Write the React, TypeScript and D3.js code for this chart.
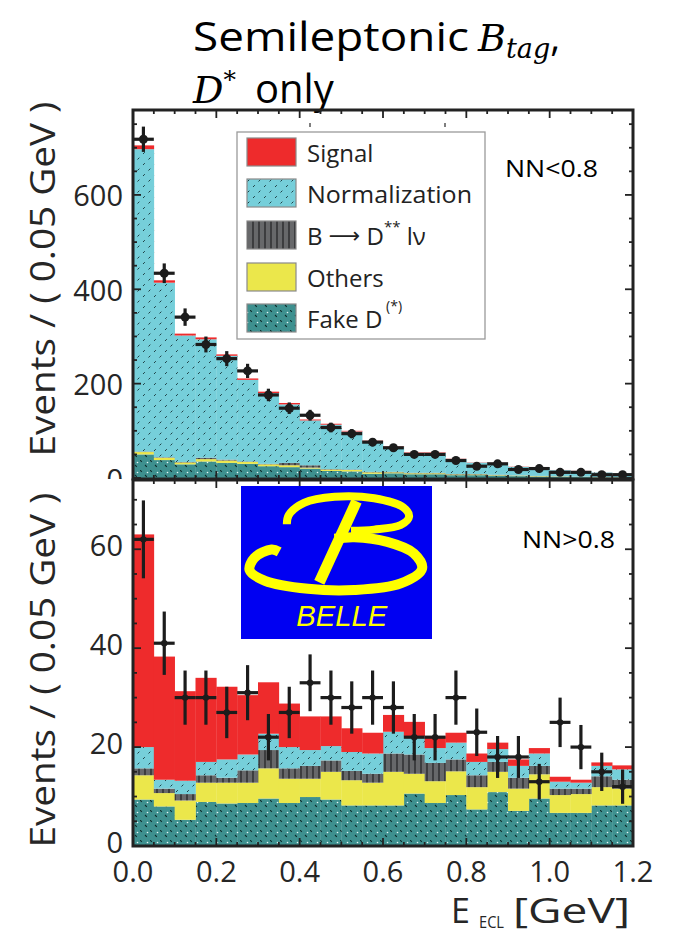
import React from 'react';
import * as d3 from 'd3';

// ---------- DATA ----------
const binLow = [0.0, 0.05, 0.1, 0.15, 0.2, 0.25, 0.3, 0.35, 0.4, 0.45, 0.5, 0.55, 0.6, 0.65, 0.7, 0.75, 0.8, 0.85, 0.9, 0.95, 1.0, 1.05, 1.1, 1.15];
const binWidth = 0.05;

// NN < 0.8 (top panel)
const dataLo = [718, 434, 341, 283, 253, 227, 176, 148, 133, 107, 94, 76, 64, 50, 50, 37, 25, 30, 18, 20, 12, 12, 7, 7];
const fakeLo = [50, 38, 29, 35, 32, 30, 25, 23, 20, 15, 14, 9, 10, 8, 8, 6, 6, 5, 4, 3, 2, 2, 1, 1];
const othersLo = [5, 5, 4, 5, 5, 4, 4, 4, 2, 3, 3, 3, 2, 2, 2, 1.5, 1.5, 1, 1, 1, 1, 0.5, 0.5, 0.5];
const dssLo = [1, 1, 1, 3, 2, 1, 1, 5, 5, 1, 1, 1, 1, 1, 1, 1, 1, 1, 0.5, 0.5, 0.5, 0.5, 0.5, 0.5];
const normLo = [641, 370, 268, 251, 220, 173, 150, 124, 95, 94, 80.5, 64.5, 53, 42, 42, 32, 24, 25.5, 18, 18, 13.2, 11.7, 9.8, 7.8];
const signalLo = [8, 5, 4, 4, 3, 3, 3, 3, 2, 2, 1.5, 1.5, 1, 1, 1, 0.5, 0.5, 0.5, 0.5, 0.5, 0.3, 0.3, 0.2, 0.2];

// NN > 0.8 (bottom panel)
const dataHi = [62, 41, 30, 30, 27, 31, 22, 27, 33, 30, 28, 30, 28, 22, 22, 30, 23, 18, 18, 13, 25, 20, 15, 12];
const fakeHi = [9.4, 8.0, 5.3, 8.9, 8.6, 8.7, 9.6, 8.7, 9.9, 9.4, 8.2, 8.2, 8.2, 10.6, 8.7, 10.3, 7.4, 10.9, 7.1, 9.6, 6.7, 6.7, 8.2, 8.2];
const othersHi = [4.9, 2.7, 3.9, 3.9, 4.2, 4.1, 6.1, 4.9, 3.7, 5.6, 5.1, 4.6, 6.8, 4.0, 4.4, 4.8, 4.5, 4.1, 4.5, 4.9, 3.6, 3.8, 3.7, 3.4];
const dssHi = [1.4, 0.9, 1.3, 1.5, 1.0, 2.5, 3.7, 2.1, 2.6, 2.3, 1.9, 1.8, 3.7, 3.9, 3.7, 2.4, 2.4, 2.0, 2.2, 1.7, 1.3, 1.1, 2.2, 1.8];
const normHi = [4.3, 1.8, 2.7, 2.7, 3.7, 3.2, 3.3, 4.3, 3.2, 2.9, 3.8, 4.1, 4.4, 3.7, 3.0, 3.4, 2.7, 2.6, 2.4, 2.5, 1.4, 1.2, 2.1, 2.1];
const signalHi = [43.0, 24.9, 18.1, 17.0, 14.7, 12.0, 10.4, 8.8, 6.8, 6.0, 4.8, 4.2, 3.4, 2.9, 2.4, 2.0, 1.7, 1.3, 1.3, 1.1, 1.0, 0.6, 0.7, 0.8];

const xTicks = [0, 0.2, 0.4, 0.6, 0.8, 1.0, 1.2];
const xTickLabels = ['0.0', '0.2', '0.4', '0.6', '0.8', '1.0', '1.2'];
const yTopTicks = [0, 200, 400, 600];
const yBotTicks = [0, 20, 40, 60];

const layerKeys = ['fake', 'others', 'dss', 'norm', 'signal'];
const legendKeys = ['signal', 'norm', 'dss', 'others', 'fake'];

// ---------- STYLE ----------
const FILL: Record<string, string> = {
  signal: '#ee2b2c',
  norm: 'url(#normPat)',
  dss: 'url(#dssPat)',
  others: '#ebe74b',
  fake: 'url(#fakePat)',
};

const W = 679;
const H = 935;
const X0 = 133;
const X1 = 633;
const TOP_Y0 = 110;
const TOP_Y1 = 478;
const BOT_Y0 = 480;
const BOT_Y1 = 846;

const x = d3.scaleLinear().domain([0, 1.2]).range([X0, X1]);
const yTop = d3.scaleLinear().domain([0, 780]).range([TOP_Y1, TOP_Y0]);
const yBot = d3.scaleLinear().domain([0, 74]).range([BOT_Y1, BOT_Y0]);

const sans = "'Open Sans', 'Noto Sans', sans-serif";
const serif = "'DejaVu Serif', 'Liberation Serif', serif";

function makeRows(f: number[], o: number[], d: number[], n: number[], s: number[]) {
  return binLow.map((lo, i) => ({ lo, fake: f[i], others: o[i], dss: d[i], norm: n[i], signal: s[i] }));
}

const stacker = d3.stack<any>().keys(layerKeys);

function Panel({ rows, data, y, y0, y1, minorStep, majorStep, clipId, dotR }: any) {
  const series = stacker(rows);
  const xMinor = d3.range(0, 1.2001, 0.05);
  const yMax = y.domain()[1];
  const yMinor = d3.range(0, yMax, minorStep);
  return (
    <g>
      <defs>
        <clipPath id={clipId}>
          <rect x={X0} y={y0} width={X1 - X0} height={y1 - y0} />
        </clipPath>
      </defs>
      <g clipPath={`url(#${clipId})`}>
        {series.map((s: any) => (
          <g key={s.key}>
            {s.map((d: any, i: number) => {
              const top = y(d[1]);
              const bot = y(d[0]);
              return (
                <rect
                  key={i}
                  x={x(rows[i].lo)}
                  y={top}
                  width={x(rows[i].lo + binWidth) - x(rows[i].lo) + 0.3}
                  height={Math.max(0, bot - top)}
                  fill={FILL[s.key]}
                />
              );
            })}
          </g>
        ))}
        {data.map((v: number, i: number) => {
          const cx = x(binLow[i] + binWidth / 2);
          const err = Math.sqrt(v);
          return (
            <g key={i} stroke="#1c1c1c" strokeWidth={3.2}>
              <line x1={x(binLow[i])} x2={x(binLow[i] + binWidth)} y1={y(v)} y2={y(v)} />
              <line x1={cx} x2={cx} y1={y(v - err)} y2={y(v + err)} />
              <circle cx={cx} cy={y(v)} r={dotR} fill="#1c1c1c" stroke="none" />
            </g>
          );
        })}
      </g>
      <g stroke="#222" strokeWidth={1.8}>
        {xMinor.map((t, i) => {
          const major = Math.abs(t / 0.2 - Math.round(t / 0.2)) < 1e-6;
          const len = major ? 8 : 4;
          return (
            <g key={i}>
              <line x1={x(t)} x2={x(t)} y1={y1} y2={y1 - len} />
              <line x1={x(t)} x2={x(t)} y1={y0} y2={y0 + len} />
            </g>
          );
        })}
        {yMinor.map((t, i) => {
          const major = Math.abs(t / majorStep - Math.round(t / majorStep)) < 1e-6;
          const len = major ? 8 : 4;
          return (
            <g key={i}>
              <line x1={X0} x2={X0 + len} y1={y(t)} y2={y(t)} />
              <line x1={X1} x2={X1 - len} y1={y(t)} y2={y(t)} />
            </g>
          );
        })}
      </g>
      <rect x={X0} y={y0} width={X1 - X0} height={y1 - y0} fill="none" stroke="#222" strokeWidth={3} />
    </g>
  );
}

function BelleLogo() {
  const lx = 241, ly = 486, lw = 191, lh = 153;
  const fx = d3.scaleLinear().domain([0, 1]).range([lx, lx + lw]);
  const fy = d3.scaleLinear().domain([0, 1]).range([ly, ly + lh]);
  const line = d3
    .line<number[]>()
    .x((p) => fx(p[0]))
    .y((p) => fy(p[1]))
    .curve(d3.curveCatmullRom.alpha(0.5));
  const upper = [
    [0.24, 0.25], [0.25, 0.19], [0.33, 0.11], [0.49, 0.07], [0.697, 0.08], [0.85, 0.14],
    [0.88, 0.2], [0.836, 0.255], [0.697, 0.285], [0.576, 0.293],
  ];
  const lower = [
    [0.2, 0.43], [0.16, 0.415], [0.07, 0.47], [0.045, 0.55], [0.126, 0.62], [0.351, 0.672], [0.593, 0.68],
    [0.836, 0.637], [0.948, 0.54], [0.905, 0.44], [0.766, 0.365], [0.593, 0.335], [0.49, 0.345],
  ];
  const stem = [
    [0.605, 0.1],
    [0.41, 0.63],
  ];
  return (
    <g>
      <rect x={lx} y={ly} width={lw} height={lh} fill="#0000f2" />
      <path d={line(upper) || ''} fill="none" stroke="#ffff00" strokeWidth={8} />
      <path d={line(lower) || ''} fill="none" stroke="#ffff00" strokeWidth={10} />
      <path d={line(stem) || ''} fill="none" stroke="#ffff00" strokeWidth={11} />
      <text
        x={fx(0.29)}
        y={fy(0.915)}
        fill="#ffff00"
        fontFamily="'Liberation Sans', sans-serif"
        fontStyle="italic"
        fontSize={29}
        textLength={fx(0.766) - fx(0.29)}
        lengthAdjust="spacingAndGlyphs"
      >
        BELLE
      </text>
    </g>
  );
}

export default function App() {
  const rowsLo = makeRows(fakeLo, othersLo, dssLo, normLo, signalLo);
  const rowsHi = makeRows(fakeHi, othersHi, dssHi, normHi, signalHi);
  const legendY = [152, 193, 235, 277, 318];
  return (
    <svg width={W} height={H} style={{ position: 'absolute', left: 0, top: 0, background: '#fff' }} xmlns="http://www.w3.org/2000/svg">
      <defs>
        <pattern id="normPat" patternUnits="userSpaceOnUse" width={11} height={11}>
          <rect width={11} height={11} fill="#76cfda" />
          <path d="M0,11 L11,0" stroke="#1d3f44" strokeWidth={1} strokeDasharray="2.6 5.18" />
        </pattern>
        <pattern id="fakePat" patternUnits="userSpaceOnUse" width={10} height={10}>
          <rect width={10} height={10} fill="#3e908f" />
          <path d="M0,0 L10,10" stroke="#0d2a2a" strokeWidth={1.1} strokeDasharray="2.6 4.47" />
          <circle cx={7.5} cy={2.5} r={0.8} fill="#e8f4f4" />
        </pattern>
        <pattern id="dssPat" patternUnits="userSpaceOnUse" width={6} height={6}>
          <rect width={6} height={6} fill="#67686a" />
          <line x1={1} x2={1} y1={0} y2={6} stroke="#2a2a2c" strokeWidth={1.4} />
        </pattern>
        <clipPath id="topLabelClip">
          <rect x={0} y={0} width={W} height={BOT_Y0 - 1} />
        </clipPath>
      </defs>
      <rect x={0} y={0} width={W} height={H} fill="#fff" />

      {/* Title */}
      <text x={193} y={51} fontFamily={sans} fontSize={40} fill="#000" textLength={276} lengthAdjust="spacingAndGlyphs">
        Semileptonic
      </text>
      <text x={478} y={51} fontFamily={serif} fontSize={38} fill="#000">
        <tspan fontStyle="italic">B</tspan>
        <tspan fontStyle="italic" fontSize={27} dy={7}>tag</tspan>
        <tspan fontFamily={sans} dy={-7}>,</tspan>
      </text>
      <text x={193} y={103} fontFamily={serif} fontSize={38} fill="#000">
        <tspan fontStyle="italic">D</tspan>
        <tspan fontSize={25} dy={-15}>*</tspan>
      </text>
      <text x={255} y={103} fontFamily={sans} fontSize={40} fill="#000">only</text>

      <Panel rows={rowsLo} data={dataLo} y={yTop} y0={TOP_Y0} y1={TOP_Y1 + 1} minorStep={50} majorStep={200} clipId="clipTop" dotR={4.5} />
      <Panel rows={rowsHi} data={dataHi} y={yBot} y0={BOT_Y0} y1={BOT_Y1} minorStep={5} majorStep={20} clipId="clipBot" dotR={3.2} />

      {/* small marks at top */}
      <line x1={310} x2={310} y1={123} y2={127} stroke="#555" strokeWidth={1.5} />
      <line x1={445} x2={445} y1={123} y2={127} stroke="#555" strokeWidth={1.5} />

      {/* Legend */}
      <rect x={237} y={132} width={248} height={207} fill="#fff" stroke="#9a9a9a" strokeWidth={1.3} />
      {legendKeys.map((k, i) => (
        <rect key={k} x={247} y={legendY[i] - 14} width={49} height={28} fill={FILL[k]} stroke="#8a8a8a" strokeWidth={1.2} />
      ))}
      <g fontFamily={sans} fontSize={24} fill="#222" dominantBaseline="central">
        <text x={307} y={legendY[0]}>Signal</text>
        <text x={307} y={legendY[1]} textLength={165} lengthAdjust="spacingAndGlyphs">Normalization</text>
        <text x={307} y={legendY[2]}>
          B <tspan fontFamily="'DejaVu Sans', sans-serif" fontSize={22}>⟶</tspan> D<tspan fontSize={15} dy={-9}>**</tspan>
          <tspan dy={9}> lν</tspan>
        </text>
        <text x={307} y={legendY[3]}>Others</text>
        <text x={307} y={legendY[4]}>
          Fake D<tspan fontSize={14} dy={-13}> (*)</tspan>
        </text>
      </g>

      <text x={505} y={177} fontFamily={sans} fontSize={24} fill="#000" textLength={93} lengthAdjust="spacingAndGlyphs">NN&lt;0.8</text>
      <text x={522} y={548} fontFamily={sans} fontSize={24} fill="#000" textLength={93} lengthAdjust="spacingAndGlyphs">NN&gt;0.8</text>

      <BelleLogo />

      {/* Y tick labels */}
      <g fontFamily={sans} fontSize={29} fill="#262626" textAnchor="end" dominantBaseline="central">
        <g clipPath="url(#topLabelClip)">
          {yTopTicks.map((t) => (
            <text key={t} x={123} y={yTop(t)}>{t}</text>
          ))}
        </g>
        {yBotTicks.map((t) => (
          <text key={t} x={123} y={yBot(t) - 5}>{t}</text>
        ))}
      </g>

      {/* X tick labels */}
      <g fontFamily={sans} fontSize={29} fill="#262626" textAnchor="middle">
        {xTicks.map((t, i) => (
          <text key={t} x={x(t)} y={882}>{xTickLabels[i]}</text>
        ))}
      </g>

      {/* axis titles */}
      <text
        transform={`translate(41,279) rotate(-90)`}
        textAnchor="middle"
        dominantBaseline="central"
        fontFamily={sans}
        fontSize={35}
        fill="#262626"
        textLength={355}
        lengthAdjust="spacingAndGlyphs"
      >
        Events / ( 0.05 GeV )
      </text>
      <text
        transform={`translate(41,${(BOT_Y0 + BOT_Y1) / 2 + 7}) rotate(-90)`}
        textAnchor="middle"
        dominantBaseline="central"
        fontFamily={sans}
        fontSize={35}
        fill="#262626"
        textLength={355}
        lengthAdjust="spacingAndGlyphs"
      >
        Events / ( 0.05 GeV )
      </text>
      <text x={451} y={923} fontFamily={sans} fontSize={34} fill="#262626">E</text>
      <text x={479} y={928} fontFamily={sans} fontSize={16} fill="#262626" textLength={25} lengthAdjust="spacingAndGlyphs">ECL</text>
      <text x={513} y={923} fontFamily={sans} fontSize={34} fill="#262626" textLength={117} lengthAdjust="spacingAndGlyphs">[GeV]</text>
    </svg>
  );
}
